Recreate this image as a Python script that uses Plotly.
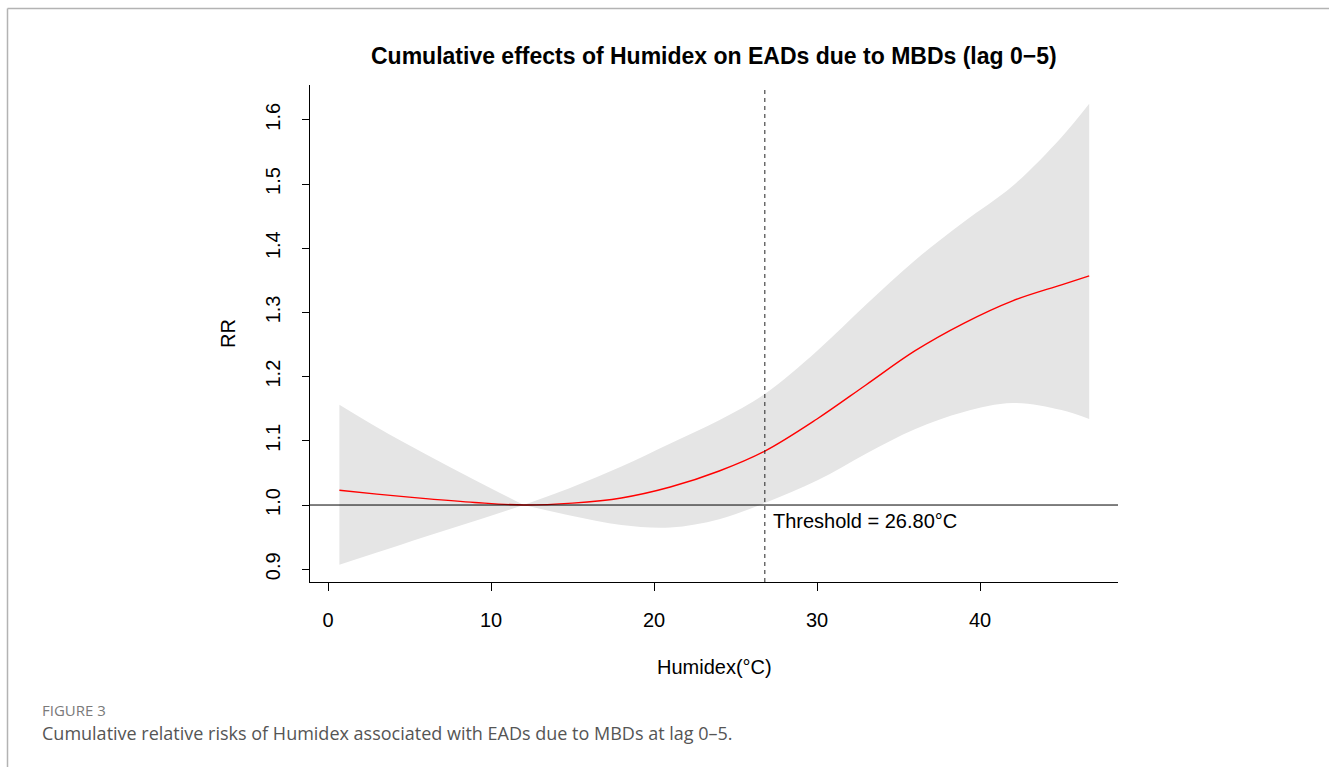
import plotly.graph_objects as go

W, H = 1329, 767

# ---- data ----
humidex = [0.7, 3, 6, 9, 12, 15, 18, 21, 24, 26.8, 30, 33, 36, 39, 42, 45, 46.7]
rr = [1.023, 1.017, 1.010, 1.004, 1.000, 1.003, 1.011, 1.028, 1.053, 1.084,
      1.134, 1.187, 1.240, 1.283, 1.318, 1.343, 1.357]
rr_high = [1.156, 1.121, 1.079, 1.039, 1.000, 1.028, 1.060, 1.096, 1.132, 1.173,
           1.240, 1.312, 1.381, 1.441, 1.497, 1.573, 1.625]
rr_low = [0.907, 0.926, 0.951, 0.975, 1.000, 0.983, 0.969, 0.965, 0.978, 1.003,
          1.038, 1.080, 1.118, 1.145, 1.159, 1.148, 1.134]
ref_humidex = 12  # reference point where the band pinches to RR = 1
threshold = 26.80
x_ticks = [0, 10, 20, 30, 40]
y_ticks = [0.9, 1.0, 1.1, 1.2, 1.3, 1.4, 1.5, 1.6]

AX_FONT = "Liberation Sans, Arial, sans-serif"
CAP_FONT = "Open Sans, Noto Sans, sans-serif"

fig = go.Figure()
k = humidex.index(ref_humidex)
for sl in (slice(0, k + 1), slice(k, None)):
    fig.add_trace(go.Scatter(x=humidex[sl], y=rr_high[sl], mode="lines",
                             line=dict(width=0, shape="spline"), hoverinfo="skip",
                             showlegend=False))
    fig.add_trace(go.Scatter(x=humidex[sl], y=rr_low[sl], mode="lines",
                             line=dict(width=0, shape="spline"), fill="tonexty",
                             fillcolor="#e5e5e5", hoverinfo="skip", showlegend=False))
fig.add_trace(go.Scatter(x=humidex, y=rr, mode="lines",
                         line=dict(color="#ff0000", width=1.4, shape="spline"),
                         showlegend=False))

px0, px1 = 310, 1118
py0, py1 = 85, 582

fig.update_layout(
    width=W, height=H,
    margin=dict(l=0, r=0, t=0, b=0),
    paper_bgcolor="white", plot_bgcolor="white",
    font=dict(family=AX_FONT, color="black"),
    xaxis=dict(domain=[px0 / W, px1 / W], range=[-1.104, 48.466],
               tickmode="array", tickvals=x_ticks, ticktext=[str(v) for v in x_ticks],
               ticks="outside", ticklen=8, tickcolor="black", tickwidth=1,
               showline=True, linecolor="black", linewidth=1,
               showgrid=False, zeroline=False,
               tickfont=dict(size=20, family=AX_FONT, color="black"),
               ticklabelstandoff=12),
    yaxis=dict(domain=[1 - py1 / H, 1 - py0 / H], range=[0.8801, 1.6542],
               tickmode="array", tickvals=y_ticks,
               ticktext=[f"{v:.1f}" for v in y_ticks],
               ticks="outside", ticklen=7, tickcolor="black", tickwidth=1,
               showline=True, linecolor="black", linewidth=1,
               showgrid=False, zeroline=False, tickangle=-90,
               tickfont=dict(size=20, family=AX_FONT, color="black"),
               ticklabelstandoff=14),
)

# reference lines
fig.add_shape(type="line", xref="x domain", yref="y", x0=0, x1=1, y0=1.0, y1=1.0,
              line=dict(color="black", width=1), layer="above")
fig.add_shape(type="line", xref="x", yref="y domain", x0=threshold, x1=threshold,
              y0=0, y1=0.995, line=dict(color="#222222", width=1, dash="4px,4px"),
              layer="above")

# outer frame of the figure panel
fig.add_shape(type="line", xref="paper", yref="paper", x0=7.5 / W, x1=1,
              y0=1 - 8.5 / H, y1=1 - 8.5 / H, line=dict(color="#b3b3b3", width=1.5))
fig.add_shape(type="line", xref="paper", yref="paper", x0=7.5 / W, x1=7.5 / W,
              y0=0, y1=1 - 8.5 / H, line=dict(color="#b3b3b3", width=1.5))

# texts
fig.add_annotation(text="<b>Cumulative effects of Humidex on EADs due to MBDs (lag 0\u22125)</b>",
                   xref="paper", yref="paper", x=714 / W, y=1 - 56 / H,
                   showarrow=False, xanchor="center", yanchor="middle",
                   font=dict(size=23, family=AX_FONT, color="black"))
fig.add_annotation(text="Humidex(\u00b0C)", xref="paper", yref="paper",
                   x=714 / W, y=1 - 667 / H, showarrow=False,
                   xanchor="center", yanchor="middle",
                   font=dict(size=20, family=AX_FONT, color="black"))
fig.add_annotation(text="RR", xref="paper", yref="paper",
                   x=228 / W, y=1 - 334 / H, showarrow=False, textangle=-90,
                   xanchor="center", yanchor="middle",
                   font=dict(size=20, family=AX_FONT, color="black"))
fig.add_annotation(text=f"Threshold = {threshold:.2f}\u00b0C", xref="x", yref="paper",
                   x=threshold, xshift=6, y=1 - 521 / H, showarrow=False,
                   xanchor="left", yanchor="middle",
                   font=dict(size=20, family=AX_FONT, color="black"))
fig.add_annotation(text="FIGURE 3", xref="paper", yref="paper",
                   x=40 / W, y=1 - 710 / H, showarrow=False,
                   xanchor="left", yanchor="middle",
                   font=dict(size=15, family=CAP_FONT, color="#7a7a7a"))
fig.add_annotation(text="Cumulative relative risks of Humidex associated with EADs due to MBDs at lag 0\u20135.",
                   xref="paper", yref="paper", x=40 / W, y=1 - 733 / H,
                   showarrow=False, xanchor="left", yanchor="middle",
                   font=dict(size=18, family=CAP_FONT, color="#555555"))

fig.write_html("out.html")
